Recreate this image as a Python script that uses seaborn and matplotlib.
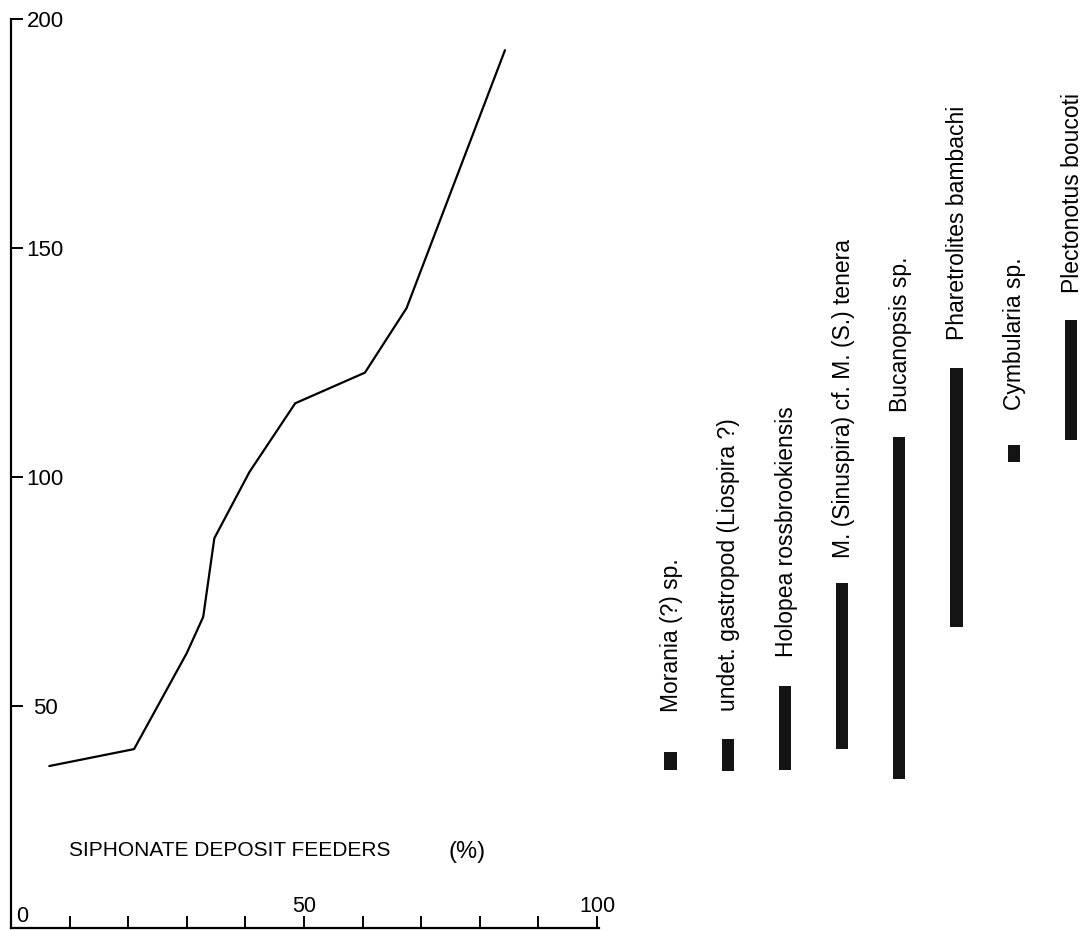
import matplotlib
matplotlib.use("Agg")
import matplotlib.pyplot as plt
import numpy as np
import pandas as pd
import seaborn as sns

# ---------------- data ----------------
feeders_pct = [6.54, 21.0, 30.0, 32.8, 34.7, 40.7, 48.5, 60.4, 67.5, 84.3]
level = [36.8, 40.5, 61.5, 69.4, 86.6, 101.1, 116.1, 122.8, 136.9, 193.3]

species = [
    "Morania (?) sp.",
    "undet. gastropod (Liospira ?)",
    "Holopea rossbrookiensis",
    "M. (Sinuspira) cf. M. (S.) tenera",
    "Bucanopsis sp.",
    "Pharetrolites bambachi",
    "Cymbularia sp.",
    "Plectonotus boucoti",
]
range_low = [35.9, 35.8, 35.9, 40.5, 34.0, 67.2, 103.3, 108.1]
range_high = [39.9, 42.6, 54.3, 76.8, 108.7, 123.8, 107.0, 134.3]

y_ticks = [50, 100, 150, 200]
x_ticks = [10, 20, 30, 40, 50, 60, 70, 80, 90, 100]
x_tick_labels = ["", "", "", "", "50", "", "", "", "", "100"]

# label gaps above bar tops (pixels) -- layout only
label_gap_px = [40, 28, 29, 25, 25, 28, 35, 27]

# ---------------- style ----------------
sns.set_theme(style="ticks")
plt.rcParams["font.family"] = ["Liberation Sans", "DejaVu Sans"]
plt.rcParams.update({
    "axes.edgecolor": "black",
    "xtick.color": "black",
    "ytick.color": "black",
    "text.color": "black",
    "axes.labelcolor": "black",
})

W, H = 1082, 931
fig = plt.figure(figsize=(W / 100, H / 100), dpi=100)
fig.patch.set_facecolor("white")

px_per_unit = 5.86
ax_left_px = 11
ax_right_px = ax_left_px + 100.3 * px_per_unit
ax_top_px, ax_bot_px = 19.5, 927.5
ax = fig.add_axes([ax_left_px / W, (H - ax_bot_px) / H,
                   (ax_right_px - ax_left_px) / W, (ax_bot_px - ax_top_px) / H])
ax.set_facecolor("none")

df_line = pd.DataFrame({"pct": feeders_pct, "level": level})
sns.lineplot(data=df_line, x="pct", y="level", color="black", lw=1.6,
             estimator=None, sort=False, ax=ax)

ax.set_xlim(0, 100.3)
ax.set_ylim(1.5, 200)
sns.despine(ax=ax)
for s in ["left", "bottom"]:
    ax.spines[s].set_linewidth(1.6)
    ax.spines[s].set_color("black")

ax.set_yticks(y_ticks)
ax.set_yticklabels([str(v) for v in y_ticks])
ax.tick_params(axis="y", direction="in", length=8.5, width=1.4,
               pad=-24.5, labelsize=16)
plt.setp(ax.get_yticklabels(), ha="center")

ax.set_xticks(x_ticks)
ax.set_xticklabels(x_tick_labels)
ax.tick_params(axis="x", direction="in", length=9, width=1.4,
               pad=-22.7, labelsize=15.5)
ax.set_xlabel("")
ax.set_ylabel("")

ax.annotate("0", xy=(0, 0), xycoords="axes fraction", xytext=(4, 0.5),
            textcoords="offset points", ha="left", va="bottom", fontsize=15.5)

ax.text(37.4, 17.1, "SIPHONATE DEPOSIT FEEDERS", ha="center", va="baseline",
        fontsize=15)
ax.text(74.6, 16.7, "(%)", ha="left", va="baseline", fontsize=17)

# ---------------- range bars ----------------
step_px = 57.2
first_px = 670.5
bx_left_px = first_px - 0.5 * step_px
bx_right_px = first_px + 7.2 * step_px
bx = fig.add_axes([bx_left_px / W, (H - ax_bot_px) / H,
                   (bx_right_px - bx_left_px) / W, (ax_bot_px - ax_top_px) / H],
                  sharey=ax)
bx.set_facecolor("none")

df_bar = pd.DataFrame({
    "species": species,
    "span": np.array(range_high) - np.array(range_low),
})
sns.barplot(data=df_bar, x="species", y="span", order=species,
            bottom=range_low, width=0.21, color="#141414", saturation=1,
            linewidth=0, errorbar=None, ax=bx)

for i, (name, top) in enumerate(zip(species, range_high)):
    bx.annotate(name, xy=(i, top), xytext=(0.8, label_gap_px[i] * 0.72),
                textcoords="offset points", rotation=90, ha="center",
                va="bottom", fontsize=16.5)

bx.set_xlim(-0.5, 7.2)
bx.axis("off")
ax.set_ylim(1.5, 200)

fig.savefig("out.png", dpi=100, facecolor="white")
